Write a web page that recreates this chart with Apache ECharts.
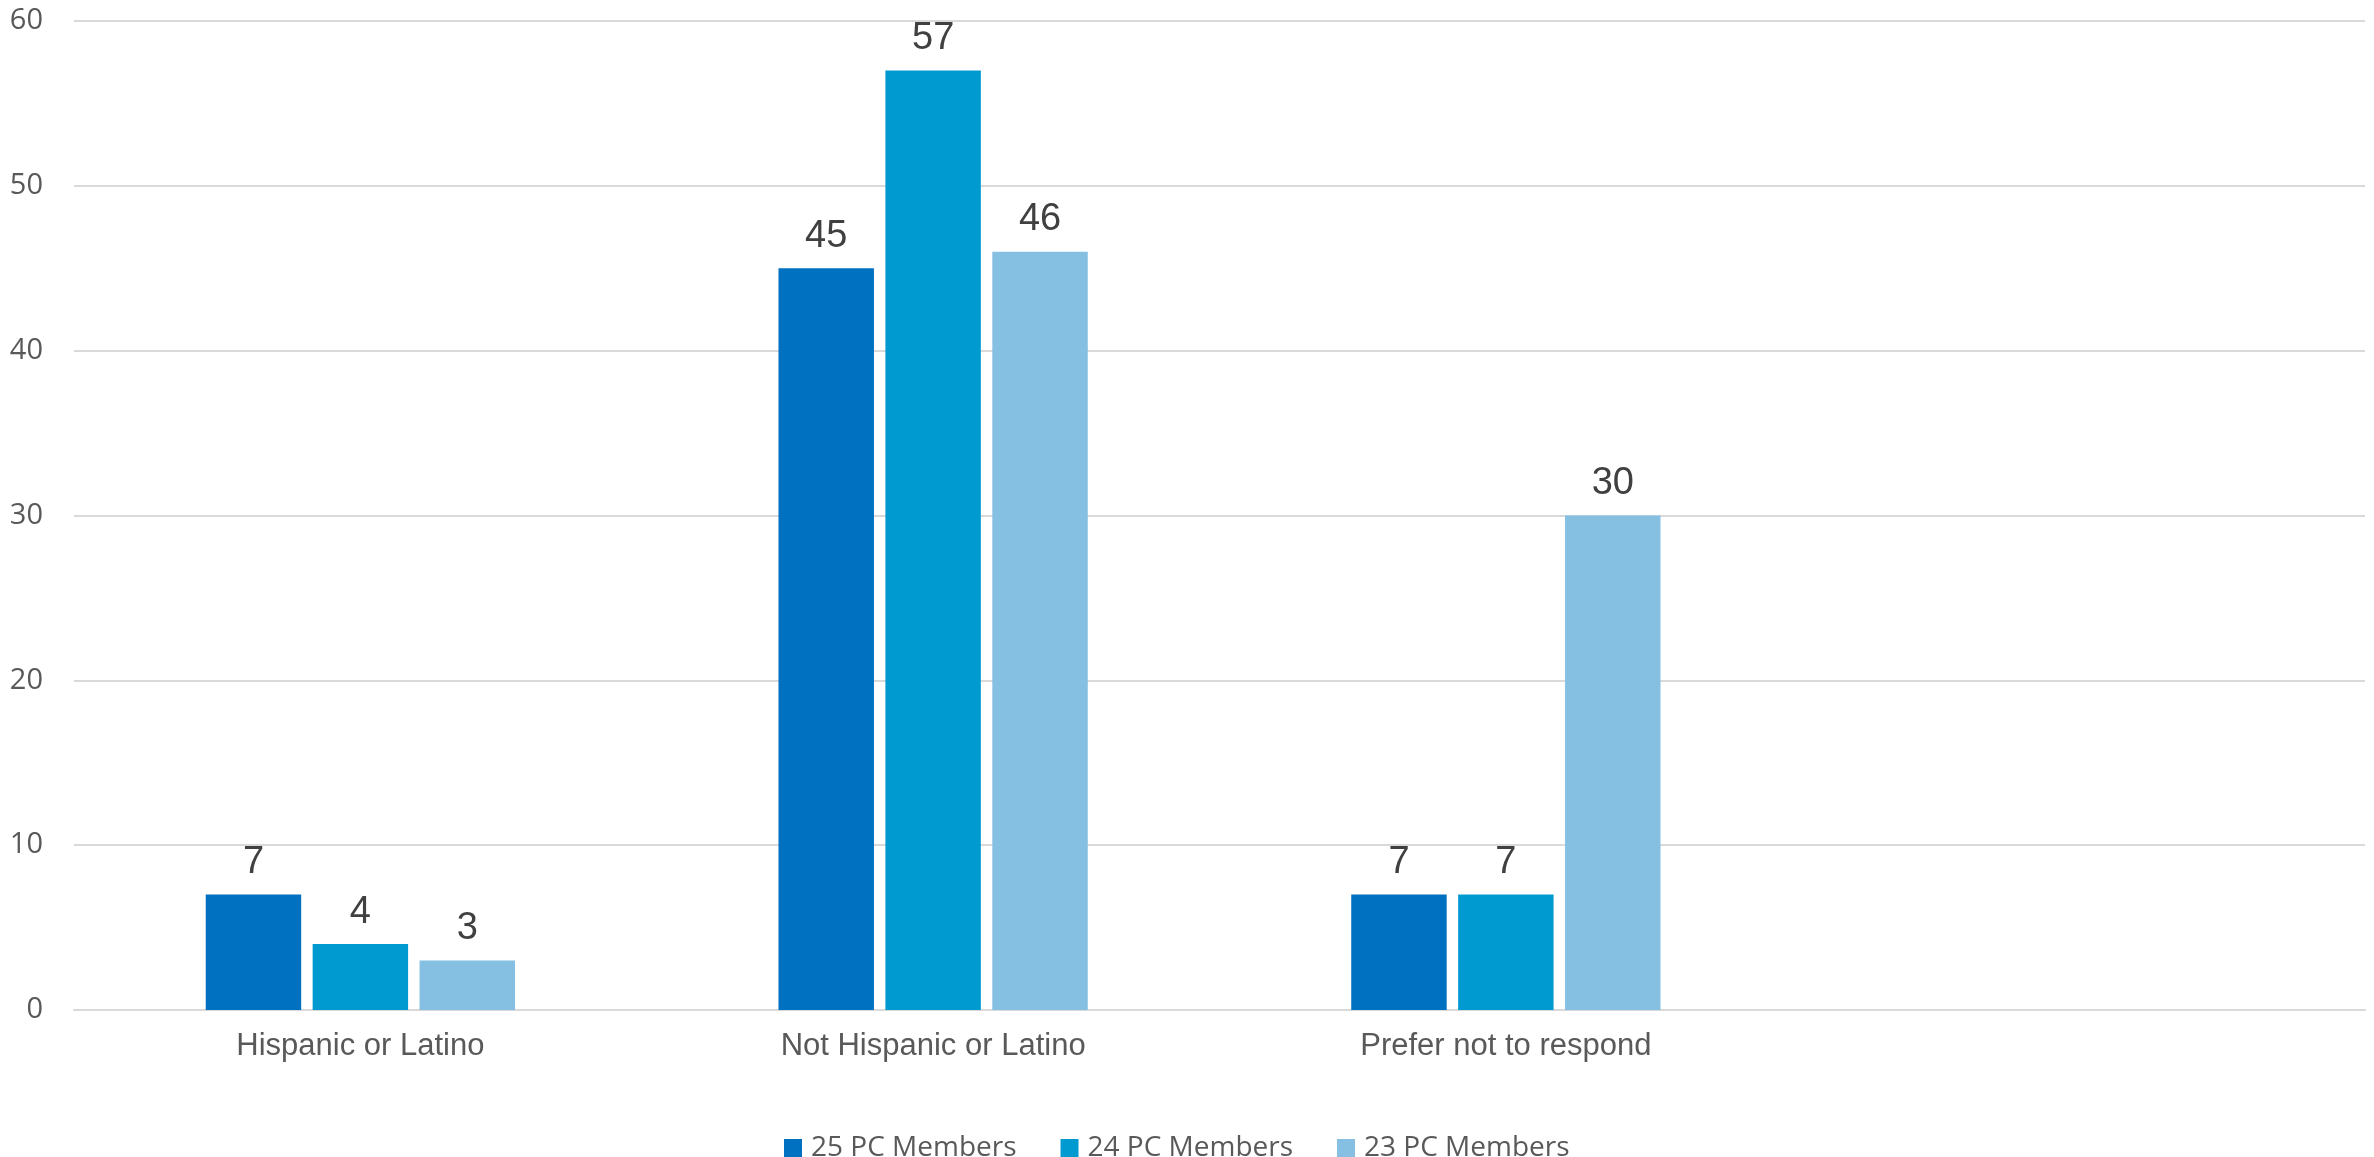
<!DOCTYPE html>
<html><head><meta charset="utf-8">
<script src="https://cdn.jsdelivr.net/npm/echarts@6/dist/echarts.min.js"></script>
<style>html,body{margin:0;padding:0;background:#fff}#c{width:2374px;height:1157px}</style>
</head><body><div id="c"></div>
<script>
const categories = ['Hispanic or Latino', 'Not Hispanic or Latino', 'Prefer not to respond', ''];
const seriesNames = ['25 PC Members', '24 PC Members', '23 PC Members'];
const pc25 = [7, 45, 7, null];
const pc24 = [4, 57, 7, null];
const pc23 = [3, 46, 30, null];
const colors = ['#0070C0', '#009AD0', '#85C0E3'];
const yTicks = { min: 0, max: 60, interval: 10 };

const chart = echarts.init(document.getElementById('c'));
const label = { show: true, position: 'top', distance: 13, color: '#404040', fontSize: 38, fontFamily: 'Liberation Sans, Arial, sans-serif' };
chart.setOption({
  animation: false,
  grid: { left: 74, right: 9, top: 21, bottom: 147 },
  legend: {
    top: 1129, left: 779, itemWidth: 18, itemHeight: 18, itemGap: 44, icon: 'rect',
    textStyle: { fontSize: 28, color: '#595959', fontFamily: 'Open Sans, sans-serif', padding: [0, 0, 0, 4] },
    data: seriesNames
  },
  xAxis: {
    type: 'category', data: categories,
    axisLine: { lineStyle: { color: '#d9d9d9', width: 2 } },
    axisTick: { show: false },
    axisLabel: { fontSize: 31, color: '#595959', margin: 21, fontFamily: 'Liberation Sans, Arial, sans-serif' }
  },
  yAxis: {
    type: 'value', min: yTicks.min, max: yTicks.max, interval: yTicks.interval,
    axisLine: { show: false }, axisTick: { show: false },
    splitLine: { lineStyle: { color: '#d9d9d9', width: 2 } },
    axisLabel: { fontSize: 29, color: '#595959', margin: 31, fontFamily: 'Open Sans, sans-serif' }
  },
  series: [pc25, pc24, pc23].map((d, i) => ({
    name: seriesNames[i], type: 'bar', data: d,
    itemStyle: { color: colors[i] },
    barGap: '12%', barCategoryGap: '46%',
    label: label
  }))
});
</script></body></html>
